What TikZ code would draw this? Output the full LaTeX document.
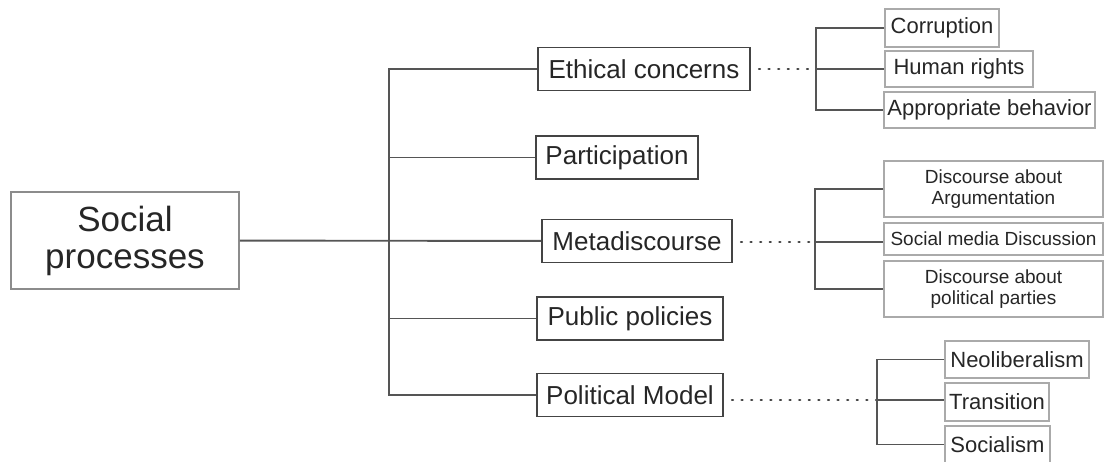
\documentclass[tikz,border=0pt]{standalone}
\usepackage{fontspec}
\setmainfont{Liberation Sans}
\usetikzlibrary{positioning}
\definecolor{linegray}{HTML}{555555}
\definecolor{boxgray}{HTML}{444444}
\definecolor{rootgray}{HTML}{8C8C8C}
\definecolor{leafgray}{HTML}{AAAAAA}

\begin{document}
\begin{tikzpicture}[x=1pt,y=-1pt,draw=linegray,line width=1.9pt,text=black!85]
    \tikzstyle{box}=[rectangle,inner sep=0pt,align=center]
    \tikzstyle{root}=[box,draw=rootgray,font=\fontsize{35}{37}\selectfont]
    \tikzstyle{topic}=[box,draw=boxgray,minimum height=43pt,font=\fontsize{26}{30}\selectfont]
    \tikzstyle{leaf}=[box,draw=leafgray,line width=1.3pt,font=\fontsize{22}{24}\selectfont]
    \tikzstyle{small leaf}=[leaf,font=\fontsize{19}{21}\selectfont]
    \tikzstyle{dots}=[draw=boxgray,line width=2.4pt,line cap=round,dash pattern=on 1pt off 8.6pt]

    \useasboundingbox (0,0) rectangle (1105,461);

    \node[root,minimum width=228pt,minimum height=97pt] (social) at (125,240.5) {Social\\processes};

    \node[topic,minimum width=212pt] (ethics) at (644,69) {Ethical concerns};
    \node[topic,minimum width=162pt] (particip) at (617,157.5) {Participation};
    \node[topic,minimum width=190pt] (meta) at (637,241) {Metadiscourse};
    \node[topic,minimum width=186pt] (public) at (630,318.5) {Public policies};
    \node[topic,minimum width=186pt] (politics) at (630,395) {Political Model};

    \node[leaf,minimum width=114pt,minimum height=38pt] (corrupt) at (942,28) {Corruption};
    \node[leaf,minimum width=148pt,minimum height=36pt] (rights) at (959,69) {Human rights};
    \node[leaf,minimum width=211pt,minimum height=36pt] (behave) at (989.5,110) {Appropriate behavior};

    \node[small leaf,minimum width=219pt,minimum height=56pt] (argum) at (993.5,189) {Discourse about\\Argumentation};
    \node[small leaf,minimum width=219pt,minimum height=32pt] (media) at (993.5,239) {Social media Discussion};
    \node[small leaf,minimum width=219pt,minimum height=56pt] (parties) at (993.5,289) {Discourse about\\political parties};

    \node[leaf,minimum width=144pt,minimum height=37pt] (neolib) at (1017,359.5) {Neoliberalism};
    \node[leaf,minimum width=104pt,minimum height=38pt] (trans) at (997,402) {Transition};
    \node[leaf,minimum width=105pt,minimum height=37pt] (socialism) at (997.5,444.5) {Socialism};

    \coordinate (trunk) at (389,0);
    \coordinate (B-1) at (816,69);
    \coordinate (B-2) at (815,242);
    \coordinate (B-3) at (877,400);

    % main tree
    \draw (social) -- (meta);
    \draw (ethics.west) -- (ethics.west -| trunk) -- (politics.west -| trunk) -- (politics.west);
    \draw (particip.west) -- (particip.west -| trunk);
    \draw (public.west) -- (public.west -| trunk);

    % dotted links to the sub-brackets
    \path[dots] ([xshift=8pt]ethics.east) -- (B-1);
    \path[dots] ([xshift=8pt]meta.east |- B-2) -- (B-2);
    \path[dots] ([xshift=8pt]politics.east |- B-3) -- (B-3);

    \draw (corrupt.west) -- (corrupt.west -| B-1) -- (behave.west -| B-1) -- (behave.west);
    \draw (B-1) -- (rights.west);

    \draw (argum.west) -- (argum.west -| B-2) -- (parties.west -| B-2) -- (parties.west);
    \draw (B-2) -- (B-2 -| media.west);

    \draw (neolib.west) -- (neolib.west -| B-3) -- (socialism.west -| B-3) -- (socialism.west);
    \draw (B-3) -- (B-3 -| trans.west);
\end{tikzpicture}
\end{document}
